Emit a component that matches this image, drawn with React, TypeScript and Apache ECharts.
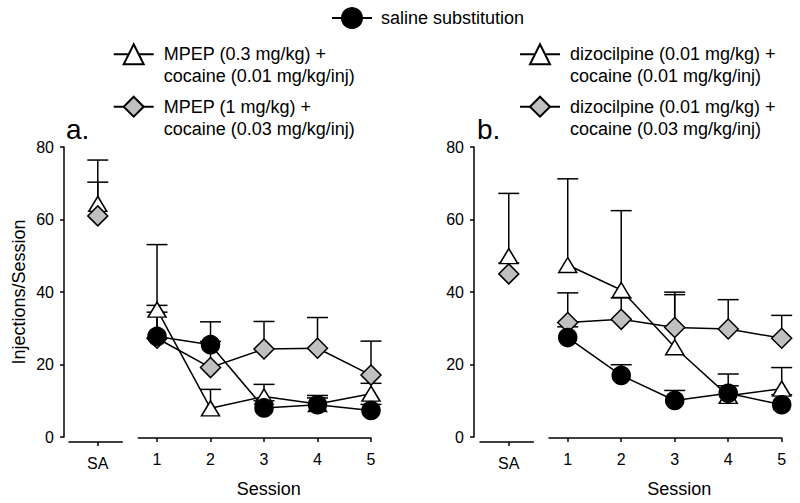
import React, { useEffect, useRef } from 'react';
import * as echarts from 'echarts';

// ---------- data ----------
const sessions = [1, 2, 3, 4, 5];
const saLabel = 'SA';
const saPos = [0];

const nameSaline = 'saline substitution';
const nameMpepLow = 'MPEP (0.3 mg/kg) +\ncocaine (0.01 mg/kg/inj)';
const nameMpepHigh = 'MPEP (1 mg/kg) +\ncocaine (0.03 mg/kg/inj)';
const nameDizLow = 'dizocilpine (0.01 mg/kg) +\ncocaine (0.01 mg/kg/inj)';
const nameDizHigh = 'dizocilpine (0.01 mg/kg) +\ncocaine (0.03 mg/kg/inj)';

// panel a (MPEP)
const aSalineMean = [27.0, 24.7, 7.0, 7.9, 6.3];
const aSalineSem = [6.8, 6.4, 2.0, 2.6, 1.7];
const aMpepLowSA = [64.3];
const aMpepLowSASem = [6.0];
const aMpepLowMean = [34.5, 6.9, 10.2, 8.1, 11.0];
const aMpepLowSem = [18.2, 5.3, 3.4, 1.7, 2.9];
const aMpepHighSA = [61.0];
const aMpepHighSASem = [15.4];
const aMpepHighMean = [26.5, 18.3, 23.5, 23.7, 16.2];
const aMpepHighSem = [9.2, 7.3, 7.7, 8.6, 9.5];

// panel b (dizocilpine)
const bSalineMean = [26.7, 16.1, 9.1, 11.1, 7.9];
const bSalineSem = [3.0, 3.0, 2.8, 2.1, 2.8];
const bDizLowSA = [49.9];
const bDizLowSASem = [17.3];
const bDizLowMean = [47.0, 40.0, 24.0, 10.4, 12.4];
const bDizLowSem = [24.1, 22.2, 15.4, 6.1, 5.9];
const bDizHighSA = [45.0];
const bDizHighSASem = [3.0];
const bDizHighMean = [30.9, 31.8, 29.5, 29.1, 26.5];
const bDizHighSem = [8.3, 6.0, 9.2, 8.2, 6.4];

// ---------- styles ----------
const FONT = '"Liberation Sans", Arial, sans-serif';
const BLACK = '#000';
const GRAY = '#c0c0c0';

const circleStyle = {
  symbol: 'circle',
  symbolSize: 18,
  itemStyle: { color: BLACK, borderColor: BLACK, borderWidth: 1.5 },
};
const triStyle = {
  symbol: 'triangle',
  symbolSize: [18, 15],
  itemStyle: { color: '#fff', borderColor: BLACK, borderWidth: 1.5 },
};
const diaStyle = {
  symbol: 'diamond',
  symbolSize: 20,
  itemStyle: { color: GRAY, borderColor: BLACK, borderWidth: 1.5 },
};

function pts(xs: number[], ys: number[]) {
  return xs.map((x, i) => [x, ys[i]]);
}
function errPts(xs: number[], ys: number[], es: number[]) {
  return xs.map((x, i) => [x, ys[i], es[i]]);
}

function lineSeries(name: string, style: any, axis: number, data: number[][]) {
  return {
    type: 'line',
    name,
    xAxisIndex: axis,
    yAxisIndex: axis,
    data,
    ...style,
    showSymbol: true,
    clip: false,
    z: 3,
    lineStyle: { color: BLACK, width: 1.5 },
    emphasis: { disabled: true },
  };
}

function errSeries(axis: number, data: number[][]) {
  return {
    type: 'custom',
    xAxisIndex: axis,
    yAxisIndex: axis,
    z: 1,
    silent: true,
    clip: false,
    encode: { x: 0, y: 1 },
    data,
    renderItem: (params: any, api: any) => {
      const x = api.value(0);
      const m = api.value(1);
      const e = api.value(2);
      const p0 = api.coord([x, m]);
      const p1 = api.coord([x, m + e]);
      const st = { stroke: BLACK, lineWidth: 1.5 };
      return {
        type: 'group',
        children: [
          { type: 'line', shape: { x1: p0[0], y1: p0[1], x2: p1[0], y2: p1[1] }, style: st },
          { type: 'line', shape: { x1: p1[0] - 10.5, y1: p1[1], x2: p1[0] + 10.5, y2: p1[1] }, style: st },
        ],
      };
    },
  };
}

const axisLineStyle = { color: BLACK, width: 1.5 };

function saXAxis(grid: number) {
  return {
    gridIndex: grid,
    type: 'value',
    min: -0.54,
    max: 0.46,
    offset: 5,
    axisLine: { show: true, onZero: false, lineStyle: axisLineStyle },
    axisTick: { show: true, length: 4, customValues: saPos, lineStyle: axisLineStyle },
    axisLabel: {
      customValues: saPos,
      formatter: () => saLabel,
      margin: 13,
      fontSize: 16,
      color: BLACK,
      fontFamily: FONT,
    },
    splitLine: { show: false },
  };
}

function sessXAxis(grid: number) {
  return {
    gridIndex: grid,
    type: 'value',
    min: 0.65,
    max: 5,
    offset: 5,
    axisLine: { show: true, onZero: false, lineStyle: axisLineStyle },
    axisTick: { show: true, length: 4, customValues: sessions, lineStyle: axisLineStyle },
    axisLabel: {
      customValues: sessions,
      formatter: (v: number) => String(v),
      margin: 13,
      fontSize: 16,
      color: BLACK,
      fontFamily: FONT,
    },
    splitLine: { show: false },
    name: 'Session',
    nameLocation: 'middle',
    nameGap: 42,
    nameTextStyle: { fontSize: 18, color: BLACK, fontFamily: FONT, padding: [0, 0, 0, 28] },
  };
}

function mainYAxis(grid: number, offset: number, withName: boolean) {
  return {
    gridIndex: grid,
    type: 'value',
    min: 0,
    max: 80,
    interval: 20,
    offset,
    axisLine: { show: true, onZero: false, lineStyle: axisLineStyle },
    axisTick: { show: true, length: 4, lineStyle: axisLineStyle },
    axisLabel: { margin: 10, fontSize: 16, color: BLACK, fontFamily: FONT },
    splitLine: { show: false },
    name: withName ? 'Injections/Session' : '',
    nameLocation: 'middle',
    nameGap: 36,
    nameTextStyle: { fontSize: 18, color: BLACK, fontFamily: FONT },
  };
}

function hiddenYAxis(grid: number) {
  return { gridIndex: grid, type: 'value', min: 0, max: 80, interval: 20, show: false };
}

function legendItem(name: string, left: number, top: number, multi: boolean) {
  return {
    data: [name],
    left,
    top,
    padding: 0,
    itemWidth: 40,
    itemHeight: 25,
    selectedMode: false,
    // multi-line names: a blank first line so that the icon sits beside the first text line
    formatter: (n: string) => (multi ? ' \n' + n : n),
    textStyle: {
      fontSize: 18,
      lineHeight: 22,
      color: BLACK,
      fontFamily: FONT,
      padding: [0, 0, 0, multi ? 5 : 4],
    },
  };
}

export default function App() {
  const ref = useRef<HTMLDivElement>(null);
  useEffect(() => {
    if (!ref.current) return;
    const chart = echarts.init(ref.current, undefined, { renderer: 'svg' });
    const option: any = {
      animation: false,
      backgroundColor: '#fff',
      textStyle: { fontFamily: FONT },
      title: [
        { text: 'a.', left: 66, top: 115, padding: 0, textStyle: { fontSize: 28, fontWeight: 'normal', color: BLACK, fontFamily: FONT } },
        { text: 'b.', left: 477, top: 115, padding: 0, textStyle: { fontSize: 28, fontWeight: 'normal', color: BLACK, fontFamily: FONT } },
      ],
      legend: [
        legendItem(nameSaline, 331, 7, false),
        legendItem(nameMpepLow, 112.7, 21.3, true),
        legendItem(nameMpepHigh, 112.7, 73.7, true),
        legendItem(nameDizLow, 519, 21.3, true),
        legendItem(nameDizHigh, 519, 73.7, true),
      ],
      grid: [
        { left: 69, top: 147, width: 53.3, height: 290 },
        { left: 138.3, top: 147, width: 232.7, height: 290 },
        { left: 480, top: 147, width: 53.3, height: 290 },
        { left: 549, top: 147, width: 232.7, height: 290 },
      ],
      xAxis: [saXAxis(0), sessXAxis(1), saXAxis(2), sessXAxis(3)],
      yAxis: [mainYAxis(0, 5, true), hiddenYAxis(1), mainYAxis(2, 6, false), hiddenYAxis(3)],
      series: [
        // error bars
        errSeries(0, errPts(saPos, aMpepLowSA, aMpepLowSASem)),
        errSeries(0, errPts(saPos, aMpepHighSA, aMpepHighSASem)),
        errSeries(1, errPts(sessions, aMpepLowMean, aMpepLowSem)),
        errSeries(1, errPts(sessions, aMpepHighMean, aMpepHighSem)),
        errSeries(1, errPts(sessions, aSalineMean, aSalineSem)),
        errSeries(2, errPts(saPos, bDizLowSA, bDizLowSASem)),
        errSeries(2, errPts(saPos, bDizHighSA, bDizHighSASem)),
        errSeries(3, errPts(sessions, bDizLowMean, bDizLowSem)),
        errSeries(3, errPts(sessions, bDizHighMean, bDizHighSem)),
        errSeries(3, errPts(sessions, bSalineMean, bSalineSem)),
        // panel a
        lineSeries(nameMpepLow, triStyle, 0, pts(saPos, aMpepLowSA)),
        lineSeries(nameMpepHigh, diaStyle, 0, pts(saPos, aMpepHighSA)),
        lineSeries(nameMpepLow, triStyle, 1, pts(sessions, aMpepLowMean)),
        lineSeries(nameMpepHigh, diaStyle, 1, pts(sessions, aMpepHighMean)),
        lineSeries(nameSaline, circleStyle, 1, pts(sessions, aSalineMean)),
        // panel b
        lineSeries(nameDizLow, triStyle, 2, pts(saPos, bDizLowSA)),
        lineSeries(nameDizHigh, diaStyle, 2, pts(saPos, bDizHighSA)),
        lineSeries(nameDizLow, triStyle, 3, pts(sessions, bDizLowMean)),
        lineSeries(nameDizHigh, diaStyle, 3, pts(sessions, bDizHighMean)),
        lineSeries(nameSaline, circleStyle, 3, pts(sessions, bSalineMean)),
      ],
    };
    chart.setOption(option);
    return () => chart.dispose();
  }, []);
  return (
    <div
      ref={ref}
      style={{ position: 'absolute', left: 0, top: 0, width: 800, height: 503, background: '#fff' }}
    />
  );
}
